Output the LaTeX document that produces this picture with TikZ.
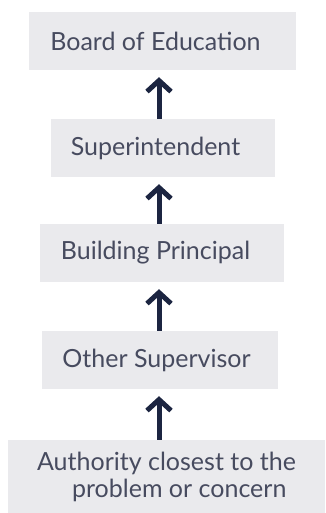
\documentclass[tikz,border=0pt]{standalone}
\usepackage{fontspec}
\setmainfont{Lato}
\usetikzlibrary{arrows.meta}
\definecolor{boxgray}{HTML}{EAEAED}
\definecolor{textslate}{HTML}{474B5F}
\definecolor{arrownavy}{HTML}{1C2541}
\begin{document}
\begin{tikzpicture}[x=1pt,y=-1pt,
    tier/.style={fill=boxgray,text=textslate,inner sep=0pt,minimum height=58pt,
      font=\fontsize{25}{27}\selectfont},
    climb/.style={line width=5pt,arrownavy,
      -{Straight Barb[length=11pt,width=24pt]},shorten >=7pt}]
  \useasboundingbox (0,0) rectangle (325,513);
  \coordinate (spine) at (159,0);
  \draw
    (162.5,41) node[tier,minimum width=267pt] (board){Board of Education\hspace{14pt}\null}
    (163,148) node[tier,minimum width=224pt] (super){Superintendent\hspace{15pt}\null}
    (162,253) node[tier,minimum width=244pt] (principal){Building Principal\hspace{13pt}\null}
    (160,360) node[tier,minimum width=236pt] (other){Other Supervisor\hspace{7pt}\null}
    (166.5,476.5) node[tier,minimum width=317pt,minimum height=73pt,align=left] (closest)
      {Authority closest to the\\\hspace*{35pt}problem or concern};
  \begin{scope}[climb]
    \draw (super.north -| spine) to (board.south -| spine);
    \draw (principal.north -| spine) to (super.south -| spine);
    \draw (other.north -| spine) to (principal.south -| spine);
    \draw (closest.north -| spine) to (other.south -| spine);
  \end{scope}
\end{tikzpicture}
\end{document}
